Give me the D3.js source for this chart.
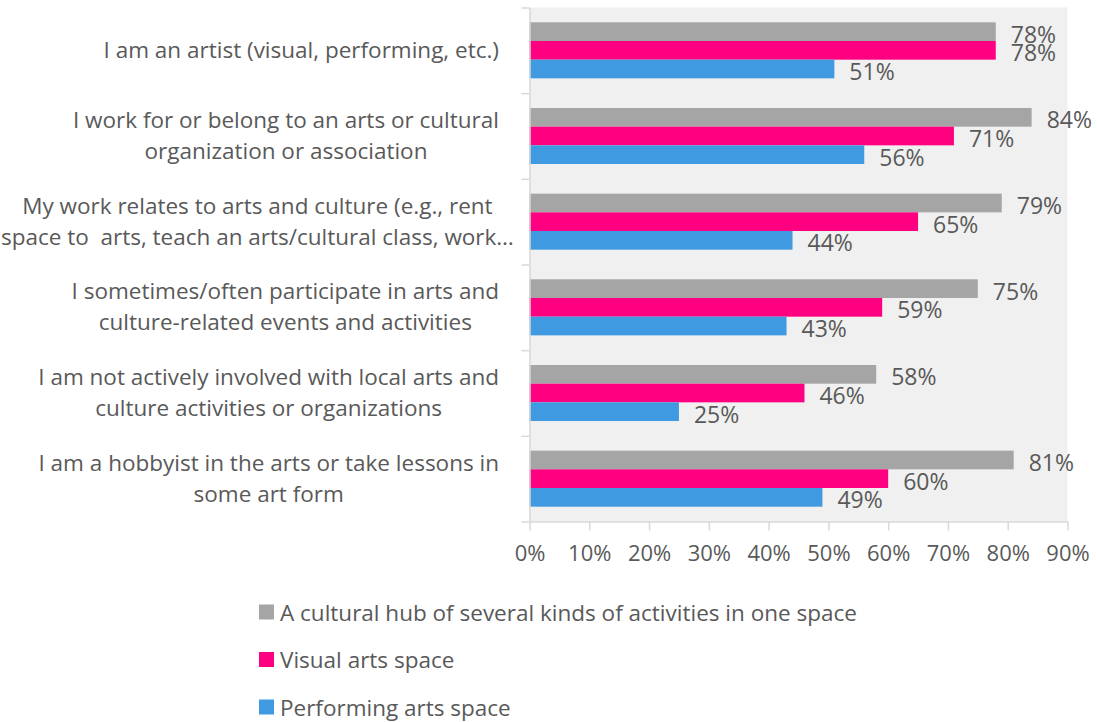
<!DOCTYPE html>
<html>
<head>
<meta charset="utf-8">
<script src="https://cdn.jsdelivr.net/npm/d3@7"></script>
<style>
  html, body { margin: 0; padding: 0; background: #ffffff; }
  svg { display: block; font-family: "Open Sans", "Noto Sans", sans-serif; }
  svg text { white-space: pre; }
</style>
</head>
<body>
<svg id="chart" width="1097" height="722"></svg>
<script>
// Survey categories (each entry is the list of wrapped label lines)
const categories = [
  ["I am an artist (visual, performing, etc.)"],
  ["I work for or belong to an arts or cultural", "organization or association"],
  ["My work relates to arts and culture (e.g., rent", "space to  arts, teach an arts/cultural class, work…"],
  ["I sometimes/often participate in arts and", "culture-related events and activities"],
  ["I am not actively involved with local arts and", "culture activities or organizations"],
  ["I am a hobbyist in the arts or take lessons in", "some art form"]
];

const seriesNames = [
  "A cultural hub of several kinds of activities in one space",
  "Visual arts space",
  "Performing arts space"
];

// Percent values per series, in category order
const hubValues = [78, 84, 79, 75, 58, 81];
const visualValues = [78, 71, 65, 59, 46, 60];
const performingValues = [51, 56, 44, 43, 25, 49];

const xTicks = [0, 10, 20, 30, 40, 50, 60, 70, 80, 90];

const colors = ["#a5a5a5", "#ff0080", "#409ae1"];
const textColor = "#595959";
const axisColor = "#d9d9d9";

const seriesValues = [hubValues, visualValues, performingValues];
const catKeys = categories.map((c, i) => i);

const svg = d3.select("#chart");

const plot = { left: 529.5, right: 1067.5, top: 7.5, bottom: 521.5 };

const x = d3.scaleLinear().domain([0, 90]).range([plot.left, plot.right]);

const y0 = d3.scaleBand()
  .domain(catKeys)
  .range([plot.top, plot.bottom])
  .paddingInner(0.346)
  .paddingOuter(0.173);

const y1 = d3.scaleBand()
  .domain(d3.range(seriesNames.length))
  .range([0, y0.bandwidth()]);

// Plot background
svg.append("rect")
  .attr("x", plot.left)
  .attr("y", plot.top)
  .attr("width", plot.right - plot.left)
  .attr("height", plot.bottom - plot.top)
  .attr("fill", "#f0f0f0");

// Bars
const groups = svg.append("g").selectAll("g")
  .data(catKeys)
  .join("g")
  .attr("transform", d => `translate(0,${y0(d)})`);

groups.selectAll("rect")
  .data(ci => seriesValues.map((vals, si) => ({ si, v: vals[ci] })))
  .join("rect")
  .attr("x", x(0))
  .attr("y", d => y1(d.si))
  .attr("width", d => x(d.v) - x(0))
  .attr("height", y1.bandwidth())
  .attr("fill", d => colors[d.si]);

// Value labels
groups.selectAll("text")
  .data(ci => seriesValues.map((vals, si) => ({ si, v: vals[ci] })))
  .join("text")
  .attr("x", d => x(d.v) + 15)
  .attr("y", d => y1(d.si) + y1.bandwidth() / 2 + 2)
  .attr("dominant-baseline", "central")
  .attr("font-size", 23)
  .attr("fill", textColor)
  .text(d => d.v + "%");

// Bottom axis
const xAxis = d3.axisBottom(x)
  .tickValues(xTicks)
  .tickFormat(d => d + "%")
  .tickSizeInner(9)
  .tickSizeOuter(0)
  .tickPadding(15);

const gx = svg.append("g")
  .attr("transform", `translate(0,${plot.bottom})`)
  .call(xAxis);
gx.select(".domain").attr("stroke", axisColor).attr("stroke-width", 1.5);
gx.selectAll(".tick line").attr("stroke", axisColor).attr("stroke-width", 1.5);
gx.selectAll(".tick text")
  .attr("fill", textColor)
  .attr("font-size", 22)
  .attr("font-family", "\"Open Sans\", sans-serif");

// Left axis: tick marks at category boundaries
const yBoundary = d3.scaleLinear().domain([0, categories.length]).range([plot.top, plot.bottom]);
const yAxis = d3.axisLeft(yBoundary)
  .tickValues(d3.range(categories.length + 1))
  .tickFormat("")
  .tickSizeInner(8)
  .tickSizeOuter(0);
const gy = svg.append("g")
  .attr("transform", `translate(${plot.left},0)`)
  .call(yAxis);
gy.select(".domain").attr("stroke", axisColor).attr("stroke-width", 1.5);
gy.selectAll(".tick line").attr("stroke", axisColor).attr("stroke-width", 1.5);

// Category labels: lines centred within a right-aligned block
const labelRight = 499;
const lineHeight = 31;
const catLabels = svg.append("g")
  .attr("font-size", 22.5)
  .attr("fill", textColor);

categories.forEach((lines, ci) => {
  const cy = y0(ci) + y0.bandwidth() / 2;
  const g = catLabels.append("g");
  const texts = g.selectAll("text")
    .data(lines)
    .join("text")
    .attr("text-anchor", "middle")
    .attr("dominant-baseline", "central")
    .attr("y", (d, i) => cy + (i - (lines.length - 1) / 2) * lineHeight - 1)
    .text(d => d);
  let maxW = 0;
  texts.each(function () { maxW = Math.max(maxW, this.getComputedTextLength()); });
  texts.attr("x", Math.max(labelRight - maxW / 2, maxW / 2 + 1));
});

// Legend
const legend = svg.append("g")
  .selectAll("g")
  .data(seriesNames)
  .join("g")
  .attr("transform", (d, i) => `translate(259,${612 + i * 47.5})`);

legend.append("rect")
  .attr("x", 0)
  .attr("y", -7.5)
  .attr("width", 15)
  .attr("height", 15)
  .attr("fill", (d, i) => colors[i]);

legend.append("text")
  .attr("x", 21)
  .attr("y", 0)
  .attr("dominant-baseline", "central")
  .attr("font-size", 22.5)
  .attr("fill", textColor)
  .text(d => d);
</script>
</body>
</html>
